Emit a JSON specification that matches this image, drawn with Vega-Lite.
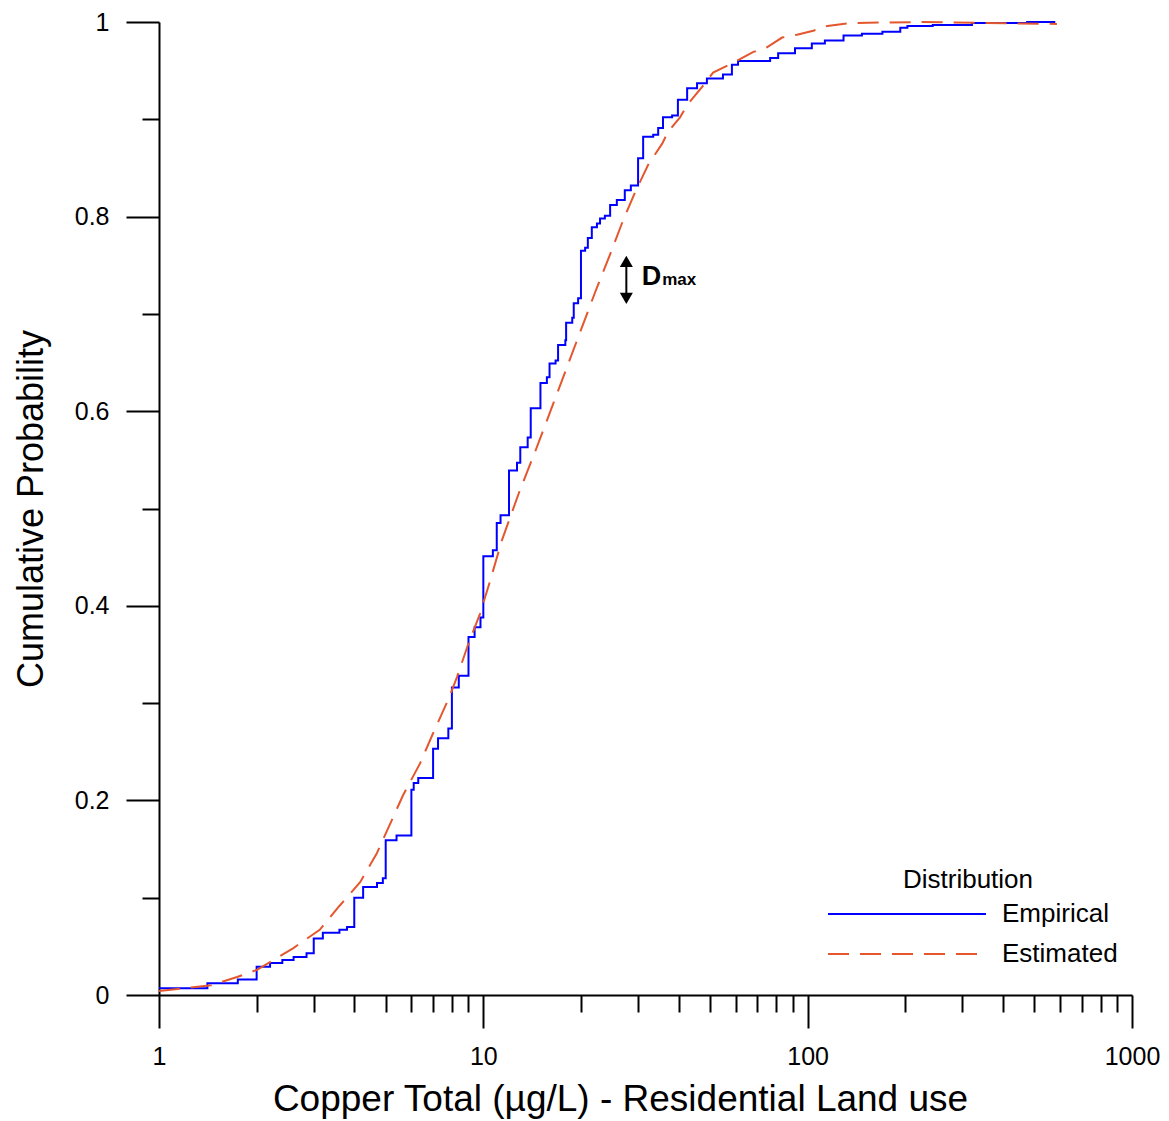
{
  "$schema": "https://vega.github.io/schema/vega-lite/v6.json",
  "width": 973,
  "height": 973,
  "autosize": "none",
  "padding": {"left": 159, "top": 22, "right": 37, "bottom": 126},
  "background": "white",
  "config": {
    "view": {"stroke": null},
    "font": "Liberation Sans",
    "axis": {
      "grid": false,
      "domainColor": "black",
      "domainWidth": 2,
      "tickColor": "black",
      "tickWidth": 2,
      "labelColor": "black",
      "labelFont": "Liberation Sans",
      "labelFontSize": 25,
      "titleFont": "Liberation Sans",
      "titleFontSize": 36,
      "titleFontWeight": "normal",
      "titleColor": "black",
      "labelOverlap": false,
      "labelFlush": false
    },
    "legend": {
      "titleFont": "Liberation Sans",
      "titleFontSize": 26,
      "titleFontWeight": "normal",
      "titleColor": "black",
      "titleAnchor": "middle",
      "titlePadding": -59,
      "labelFont": "Liberation Sans",
      "labelFontSize": 26,
      "labelColor": "black",
      "symbolType": "stroke",
      "symbolSize": 24964,
      "symbolStrokeWidth": 2,
      "labelOffset": 15,
      "padding": 0
    }
  },
  "datasets": {
    "empirical": [
      {"series": "Empirical", "x": 1, "p": 0.007},
      {"series": "Empirical", "x": 1.41, "p": 0.012},
      {"series": "Empirical", "x": 1.75, "p": 0.016},
      {"series": "Empirical", "x": 2, "p": 0.029},
      {"series": "Empirical", "x": 2.2, "p": 0.033},
      {"series": "Empirical", "x": 2.4, "p": 0.036},
      {"series": "Empirical", "x": 2.6, "p": 0.039},
      {"series": "Empirical", "x": 2.85, "p": 0.043},
      {"series": "Empirical", "x": 3, "p": 0.058},
      {"series": "Empirical", "x": 3.2, "p": 0.064},
      {"series": "Empirical", "x": 3.6, "p": 0.067},
      {"series": "Empirical", "x": 3.8, "p": 0.07},
      {"series": "Empirical", "x": 4, "p": 0.1},
      {"series": "Empirical", "x": 4.26, "p": 0.111},
      {"series": "Empirical", "x": 4.7, "p": 0.115},
      {"series": "Empirical", "x": 4.9, "p": 0.12},
      {"series": "Empirical", "x": 5, "p": 0.159},
      {"series": "Empirical", "x": 5.4, "p": 0.164},
      {"series": "Empirical", "x": 6, "p": 0.211},
      {"series": "Empirical", "x": 6.1, "p": 0.218},
      {"series": "Empirical", "x": 6.3, "p": 0.223},
      {"series": "Empirical", "x": 7, "p": 0.253},
      {"series": "Empirical", "x": 7.25, "p": 0.264},
      {"series": "Empirical", "x": 7.8, "p": 0.274},
      {"series": "Empirical", "x": 8, "p": 0.316},
      {"series": "Empirical", "x": 8.4, "p": 0.328},
      {"series": "Empirical", "x": 9, "p": 0.368},
      {"series": "Empirical", "x": 9.4, "p": 0.378},
      {"series": "Empirical", "x": 9.8, "p": 0.388},
      {"series": "Empirical", "x": 10, "p": 0.451},
      {"series": "Empirical", "x": 10.7, "p": 0.457},
      {"series": "Empirical", "x": 11, "p": 0.485},
      {"series": "Empirical", "x": 11.3, "p": 0.493},
      {"series": "Empirical", "x": 12, "p": 0.539},
      {"series": "Empirical", "x": 12.7, "p": 0.547},
      {"series": "Empirical", "x": 13, "p": 0.563},
      {"series": "Empirical", "x": 13.7, "p": 0.573},
      {"series": "Empirical", "x": 14, "p": 0.603},
      {"series": "Empirical", "x": 15, "p": 0.629},
      {"series": "Empirical", "x": 15.7, "p": 0.635},
      {"series": "Empirical", "x": 16, "p": 0.649},
      {"series": "Empirical", "x": 16.7, "p": 0.652},
      {"series": "Empirical", "x": 17, "p": 0.668},
      {"series": "Empirical", "x": 17.9, "p": 0.673},
      {"series": "Empirical", "x": 18, "p": 0.691},
      {"series": "Empirical", "x": 18.8, "p": 0.696},
      {"series": "Empirical", "x": 19, "p": 0.711},
      {"series": "Empirical", "x": 19.6, "p": 0.716},
      {"series": "Empirical", "x": 20, "p": 0.765},
      {"series": "Empirical", "x": 20.6, "p": 0.768},
      {"series": "Empirical", "x": 21, "p": 0.778},
      {"series": "Empirical", "x": 21.6, "p": 0.789},
      {"series": "Empirical", "x": 22.4, "p": 0.793},
      {"series": "Empirical", "x": 22.9, "p": 0.798},
      {"series": "Empirical", "x": 23.7, "p": 0.801},
      {"series": "Empirical", "x": 24.6, "p": 0.812},
      {"series": "Empirical", "x": 25.8, "p": 0.817},
      {"series": "Empirical", "x": 27.3, "p": 0.827},
      {"series": "Empirical", "x": 28.5, "p": 0.832},
      {"series": "Empirical", "x": 30, "p": 0.86},
      {"series": "Empirical", "x": 31.1, "p": 0.882},
      {"series": "Empirical", "x": 33.4, "p": 0.884},
      {"series": "Empirical", "x": 34.6, "p": 0.891},
      {"series": "Empirical", "x": 35.8, "p": 0.902},
      {"series": "Empirical", "x": 38.2, "p": 0.904},
      {"series": "Empirical", "x": 39.8, "p": 0.92},
      {"series": "Empirical", "x": 42.5, "p": 0.932},
      {"series": "Empirical", "x": 45.6, "p": 0.937},
      {"series": "Empirical", "x": 48.9, "p": 0.942},
      {"series": "Empirical", "x": 54.8, "p": 0.946},
      {"series": "Empirical", "x": 58.4, "p": 0.956},
      {"series": "Empirical", "x": 61, "p": 0.96},
      {"series": "Empirical", "x": 76.6, "p": 0.963},
      {"series": "Empirical", "x": 81.1, "p": 0.968},
      {"series": "Empirical", "x": 91.4, "p": 0.973},
      {"series": "Empirical", "x": 103, "p": 0.978},
      {"series": "Empirical", "x": 113, "p": 0.981},
      {"series": "Empirical", "x": 129, "p": 0.986},
      {"series": "Empirical", "x": 147, "p": 0.988},
      {"series": "Empirical", "x": 170, "p": 0.99},
      {"series": "Empirical", "x": 193, "p": 0.994},
      {"series": "Empirical", "x": 203, "p": 0.996},
      {"series": "Empirical", "x": 243, "p": 0.997},
      {"series": "Empirical", "x": 321, "p": 0.999},
      {"series": "Empirical", "x": 475, "p": 1.0},
      {"series": "Empirical", "x": 580, "p": 1.0}
    ],
    "estimated": [
      {"series": "Estimated", "x": 1, "p": 0.004},
      {"series": "Estimated", "x": 1.2, "p": 0.007},
      {"series": "Estimated", "x": 1.45, "p": 0.01},
      {"series": "Estimated", "x": 1.74, "p": 0.0185},
      {"series": "Estimated", "x": 2, "p": 0.0257},
      {"series": "Estimated", "x": 2.59, "p": 0.048},
      {"series": "Estimated", "x": 3.13, "p": 0.067},
      {"series": "Estimated", "x": 3.61, "p": 0.092},
      {"series": "Estimated", "x": 4.17, "p": 0.116},
      {"series": "Estimated", "x": 4.7, "p": 0.146},
      {"series": "Estimated", "x": 5.65, "p": 0.205},
      {"series": "Estimated", "x": 6.38, "p": 0.238},
      {"series": "Estimated", "x": 7, "p": 0.269},
      {"series": "Estimated", "x": 7.78, "p": 0.303},
      {"series": "Estimated", "x": 8.3, "p": 0.327},
      {"series": "Estimated", "x": 8.97, "p": 0.36},
      {"series": "Estimated", "x": 9.77, "p": 0.392},
      {"series": "Estimated", "x": 10.5, "p": 0.426},
      {"series": "Estimated", "x": 11.4, "p": 0.467},
      {"series": "Estimated", "x": 12.97, "p": 0.519},
      {"series": "Estimated", "x": 14.43, "p": 0.558},
      {"series": "Estimated", "x": 16.06, "p": 0.599},
      {"series": "Estimated", "x": 17.86, "p": 0.64},
      {"series": "Estimated", "x": 19.87, "p": 0.681},
      {"series": "Estimated", "x": 22.1, "p": 0.722},
      {"series": "Estimated", "x": 24.58, "p": 0.761},
      {"series": "Estimated", "x": 26.96, "p": 0.796},
      {"series": "Estimated", "x": 29.36, "p": 0.825},
      {"series": "Estimated", "x": 32.2, "p": 0.853},
      {"series": "Estimated", "x": 35.6, "p": 0.875},
      {"series": "Estimated", "x": 37.1, "p": 0.887},
      {"series": "Estimated", "x": 40.4, "p": 0.902},
      {"series": "Estimated", "x": 42.8, "p": 0.916},
      {"series": "Estimated", "x": 47.2, "p": 0.933},
      {"series": "Estimated", "x": 51.1, "p": 0.948},
      {"series": "Estimated", "x": 59.7, "p": 0.959},
      {"series": "Estimated", "x": 67.8, "p": 0.969},
      {"series": "Estimated", "x": 74.9, "p": 0.974},
      {"series": "Estimated", "x": 83.4, "p": 0.984},
      {"series": "Estimated", "x": 92.7, "p": 0.987},
      {"series": "Estimated", "x": 104, "p": 0.991},
      {"series": "Estimated", "x": 115, "p": 0.996},
      {"series": "Estimated", "x": 136, "p": 0.999},
      {"series": "Estimated", "x": 222, "p": 1.0},
      {"series": "Estimated", "x": 587, "p": 0.998}
    ],
    "arrow": [
      {"x": 27.6, "top": 0.754, "bottom": 0.716}
    ],
    "labels": [
      {"x": 30.8, "p": 0.7295, "text": "D", "part": "main"},
      {"x": 35.6, "p": 0.7295, "text": "max", "part": "sub"}
    ]
  },
  "layer": [
    {
      "data": {"name": "empirical"},
      "mark": {"type": "line", "interpolate": "step-after", "strokeWidth": 2},
      "encoding": {
        "x": {
          "field": "x",
          "type": "quantitative",
          "scale": {"type": "log", "domain": [1, 1000], "nice": false},
          "axis": {
            "title": "Copper Total (µg/L) - Residential Land use",
            "titleFontSize": 37,
            "values": [1, 2, 3, 4, 5, 6, 7, 8, 9, 10, 20, 30, 40, 50, 60, 70, 80, 90, 100, 200, 300, 400, 500, 600, 700, 800, 900, 1000],
            "labelExpr": "(datum.value == 1 || datum.value == 10 || datum.value == 100 || datum.value == 1000) ? format(datum.value, 'd') : ''",
            "tickSize": {"condition": {"test": "datum.value == 1 || datum.value == 10 || datum.value == 100 || datum.value == 1000", "value": 33}, "value": 17},
            "labelPadding": 16,
            "titlePadding": 12,
            "titleX": 461,
            "titleAnchor": null
          }
        },
        "y": {
          "field": "p",
          "type": "quantitative",
          "scale": {"domain": [0, 1], "nice": false},
          "axis": {
            "title": "Cumulative Probability",
            "values": [0, 0.1, 0.2, 0.3, 0.4, 0.5, 0.6, 0.7, 0.8, 0.9, 1],
            "labelExpr": "round(datum.value * 10) % 2 == 0 ? format(datum.value, '~g') : ''",
            "tickSize": {"condition": {"test": "round(datum.value * 10) % 2 == 0", "value": 33}, "value": 17},
            "labelPadding": 17,
            "titlePadding": 24
          }
        },
        "color": {
          "field": "series",
          "type": "nominal",
          "title": "Distribution",
          "scale": {"domain": ["Empirical", "Estimated"], "range": ["#0000FF", "#E4572E"]},
          "legend": {"orient": "none", "legendX": 668, "legendY": 845, "values": ["Empirical"]}
        },
        "strokeDash": {
          "field": "series",
          "type": "nominal",
          "scale": {"domain": ["Estimated", "Empirical"], "range": [[21, 11], [1, 0]]},
          "legend": {"orient": "none", "legendX": 668, "legendY": 852, "values": ["Estimated"], "title": null, "symbolStrokeColor": "#E4572E"}
        }
      }
    },
    {
      "data": {"name": "estimated"},
      "mark": {"type": "line", "strokeWidth": 2},
      "encoding": {
        "x": {"field": "x", "type": "quantitative"},
        "y": {"field": "p", "type": "quantitative"},
        "color": {"field": "series", "type": "nominal", "title": "Distribution"},
        "strokeDash": {"field": "series", "type": "nominal"}
      }
    },
    {
      "data": {"name": "arrow"},
      "mark": {"type": "rule", "color": "black", "strokeWidth": 2},
      "encoding": {
        "x": {"field": "x", "type": "quantitative"},
        "y": {"field": "top", "type": "quantitative"},
        "y2": {"field": "bottom"}
      }
    },
    {
      "data": {"name": "arrow"},
      "mark": {"type": "point", "shape": "triangle-up", "filled": true, "color": "black", "size": 170, "opacity": 1},
      "encoding": {
        "x": {"field": "x", "type": "quantitative"},
        "y": {"field": "top", "type": "quantitative"}
      }
    },
    {
      "data": {"name": "arrow"},
      "mark": {"type": "point", "shape": "triangle-down", "filled": true, "color": "black", "size": 170, "opacity": 1},
      "encoding": {
        "x": {"field": "x", "type": "quantitative"},
        "y": {"field": "bottom", "type": "quantitative"}
      }
    },
    {
      "data": {"name": "labels"},
      "transform": [{"filter": "datum.part == 'main'"}],
      "mark": {"type": "text", "align": "left", "baseline": "alphabetic", "fontSize": 27, "fontWeight": "bold", "font": "Liberation Sans", "color": "black"},
      "encoding": {
        "x": {"field": "x", "type": "quantitative"},
        "y": {"field": "p", "type": "quantitative"},
        "text": {"field": "text"}
      }
    },
    {
      "data": {"name": "labels"},
      "transform": [{"filter": "datum.part == 'sub'"}],
      "mark": {"type": "text", "align": "left", "baseline": "alphabetic", "fontSize": 17, "fontWeight": "bold", "font": "Liberation Sans", "color": "black"},
      "encoding": {
        "x": {"field": "x", "type": "quantitative"},
        "y": {"field": "p", "type": "quantitative"},
        "text": {"field": "text"}
      }
    }
  ]
}
